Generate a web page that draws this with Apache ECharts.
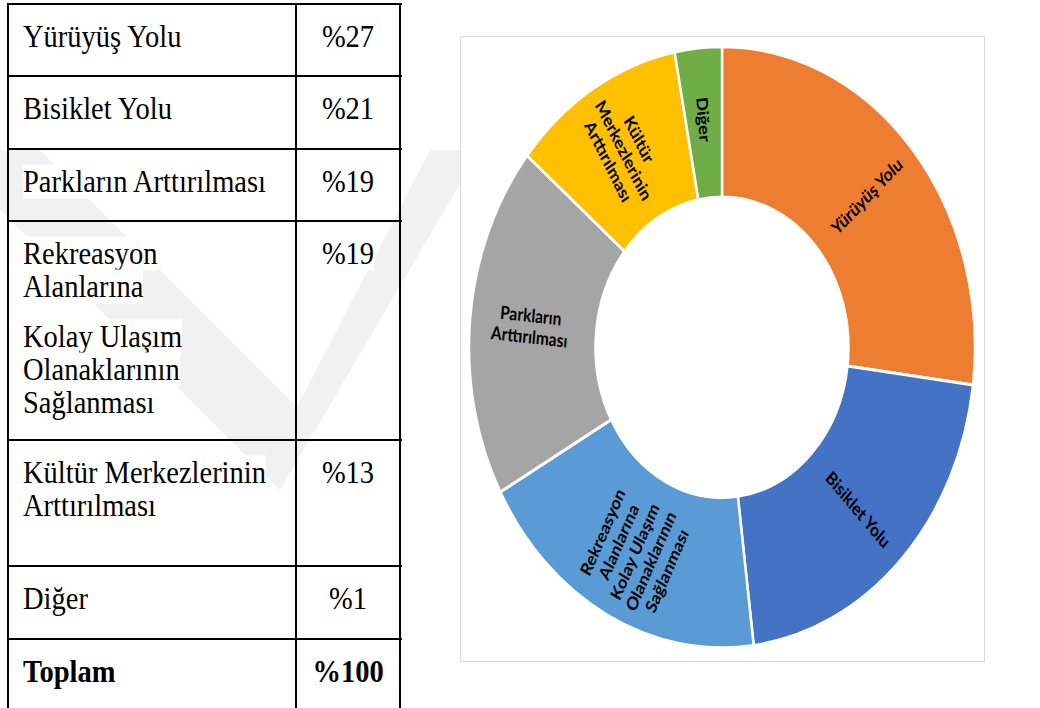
<!DOCTYPE html>
<html>
<head>
<meta charset="utf-8">
<script src="https://cdn.jsdelivr.net/npm/echarts@6/dist/echarts.min.js"></script>
<style>
    html, body { margin: 0; padding: 0; background: #fff; }
    #page { position: relative; width: 1040px; height: 708px; overflow: hidden; }
    #wm { position: absolute; left: 0; top: 0; }
    .hl { position: absolute; left: 7px; width: 395px; height: 2px; background: #000; }
    .vl { position: absolute; top: 3px; height: 710px; width: 2px; background: #000; }
    .cell { position: absolute; font-family: "Liberation Serif", "Times New Roman", serif;
            font-size: 28.5px; line-height: 33px; color: #000; white-space: nowrap; }
    .cell .ln { transform: scaleY(1.1); transform-origin: 0 26px; }
    .cell .ln span { background: #fff; }
    .cell .gap { height: 17px; }
    .pct { width: 104px; text-align: center; }
    .pct .ln { transform-origin: 50% 26px; }
    .bold { font-weight: bold; }
    #frame { position: absolute; left: 460px; top: 36px; width: 523px; height: 624px;
             border: 1px solid #d9d9d9; background: #fff; }
    #main { position: absolute; left: 460px; top: 36px; width: 525px; height: 526px;
            transform-origin: 0 0; transform: scaleY(1.188); }
</style>
</head>
<body>
<div id="page">
    <svg id="wm" width="1040" height="708">
        <polygon points="-60,150 40,150 297,407 430,150 480,150 280,490" fill="#f1f1f1"/>
    </svg>
    <div id="frame"></div>
    <div id="main"></div>
</div>
<script>
    // tablo
    const tableLabels = [
        ['Yürüyüş Yolu'],
        ['Bisiklet Yolu'],
        ['Parkların Arttırılması'],
        ['Rekreasyon', 'Alanlarına', '', 'Kolay Ulaşım', 'Olanaklarının', 'Sağlanması'],
        ['Kültür Merkezlerinin', 'Arttırılması'],
        ['Diğer'],
        ['Toplam']
    ];
    const tablePercents = ['%27', '%21', '%19', '%19', '%13', '%1', '%100'];

    // grafik
    const chartLabels = ['Yürüyüş Yolu', 'Bisiklet Yolu',
        'Rekreasyon\nAlanlarına\nKolay Ulaşım\nOlanaklarının\nSağlanması',
        'Parkların\nArttırılması', 'Kültür\nMerkezlerinin\nArttırılması', 'Diğer'];
    const chartValues = [27, 21, 19, 19, 11, 3];
    const chartColors = ['#ED7D31', '#4472C4', '#5B9BD5', '#A5A5A5', '#FFC000', '#70AD47'];

    // table layout
    const rowTops = [4, 76, 149, 220.5, 439.5, 566, 638.5];
    const colLines = [8, 295.5, 400];
    const page = document.getElementById('page');

    rowTops.forEach(function (y) {
        let d = document.createElement('div');
        d.className = 'hl';
        d.style.top = (y - 1) + 'px';
        page.appendChild(d);
    });
    colLines.forEach(function (x) {
        let d = document.createElement('div');
        d.className = 'vl';
        d.style.left = (x - 1) + 'px';
        page.appendChild(d);
    });

    function line(t) {
        return t === '' ? '<div class="gap"></div>' : '<div class="ln"><span>' + t + '</span></div>';
    }

    tableLabels.forEach(function (lines, i) {
        let bold = i === tableLabels.length - 1 ? ' bold' : '';
        let c = document.createElement('div');
        c.className = 'cell' + bold;
        c.style.left = '23px';
        c.style.top = (rowTops[i] + 17) + 'px';
        c.innerHTML = lines.map(line).join('');
        page.appendChild(c);

        let p = document.createElement('div');
        p.className = 'cell pct' + bold;
        p.style.left = '296px';
        p.style.top = (rowTops[i] + 17) + 'px';
        p.innerHTML = line(tablePercents[i]);
        page.appendChild(p);
    });

    const chart = echarts.init(document.getElementById('main'), null, {renderer: 'svg'});
    chart.setOption({
        animation: false,
        color: chartColors,
        series: [{
            type: 'pie',
            center: [262, 262],
            radius: [126.5, 253],
            startAngle: 90,
            clockwise: true,
            avoidLabelOverlap: false,
            itemStyle: {borderColor: '#fff', borderWidth: 2.5},
            label: {
                show: true,
                position: 'inside',
                rotate: 'radial',
                formatter: function (p) { return chartLabels[p.dataIndex]; },
                fontFamily: 'Lato',
                fontWeight: 'bold',
                fontSize: 15.5,
                lineHeight: 18,
                color: '#000'
            },
            labelLine: {show: false},
            emphasis: {disabled: true},
            data: chartValues.map(function (v, i) {
                return {value: v, name: chartLabels[i]};
            })
        }]
    });
</script>
</body>
</html>
